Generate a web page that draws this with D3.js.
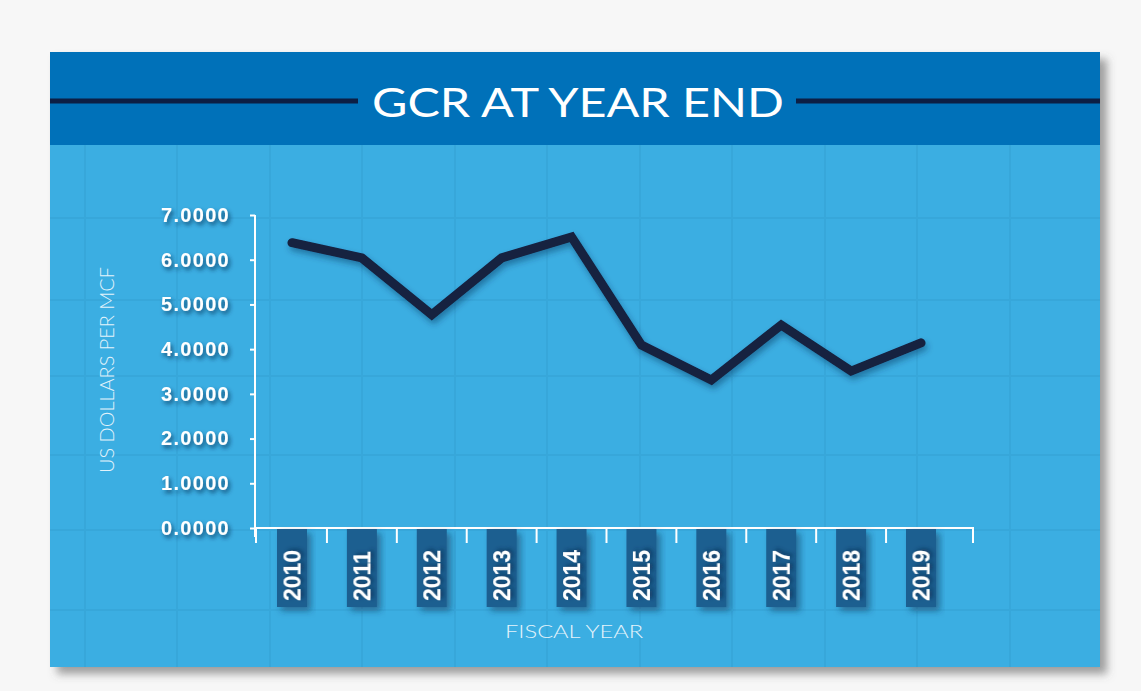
<!DOCTYPE html>
<html><head><meta charset="utf-8">
<script src="https://cdn.jsdelivr.net/npm/d3@7/dist/d3.min.js"></script>
<style>
html,body{margin:0;padding:0;background:#f7f7f7;}
svg{display:block;}
</style></head>
<body>
<svg id="chart" width="1141" height="691"></svg>
<script>
// ---- data ----
const years = ['2010','2011','2012','2013','2014','2015','2016','2017','2018','2019'];
const gcrValues = [6.38, 6.04, 4.77, 6.04, 6.51, 4.09, 3.31, 4.54, 3.51, 4.14];
const yTickValues = [0, 1, 2, 3, 4, 5, 6, 7];
const titleText = 'GCR AT YEAR END';
const yAxisTitle = 'US DOLLARS PER MCF';
const xAxisTitle = 'FISCAL YEAR';

// ---- layout ----
const W = 1141, H = 691;
const panel = {x: 50, y: 52, w: 1050, h: 615};
const headerH = 93;
const gridX = [85, 177, 270, 362, 455, 547, 640, 732, 825, 917, 1010];
const gridY = [218, 300, 376, 455, 530, 610];

const svg = d3.select('#chart');
const defs = svg.append('defs');
function shadow(id, dx, dy, sd, color, op) {
  const f = defs.append('filter').attr('id', id)
    .attr('x', '-20%').attr('y', '-20%').attr('width', '150%').attr('height', '150%');
  f.append('feDropShadow').attr('dx', dx).attr('dy', dy).attr('stdDeviation', sd)
    .attr('flood-color', color).attr('flood-opacity', op);
}
shadow('panelShadow', 7, 7, 4, '#555', 0.55);
shadow('textShadow', 2, 3, 2, '#0b2f52', 0.75);
shadow('lineShadow', 2, 4, 3, '#0b2f52', 0.45);
shadow('boxShadow', 4, 4, 3, '#0b2f52', 0.5);

// panel
svg.append('rect').attr('x', panel.x).attr('y', panel.y).attr('width', panel.w).attr('height', panel.h)
  .attr('fill', '#3baee2').attr('filter', 'url(#panelShadow)');

// grid texture
const grid = svg.append('g').attr('stroke', '#37a7da').attr('stroke-width', 2);
grid.selectAll('line.v').data(gridX).join('line').attr('class', 'v')
  .attr('x1', d => d).attr('x2', d => d).attr('y1', panel.y + headerH).attr('y2', panel.y + panel.h);
grid.selectAll('line.h').data(gridY).join('line').attr('class', 'h')
  .attr('x1', panel.x).attr('x2', panel.x + panel.w).attr('y1', d => d).attr('y2', d => d);

// header
svg.append('rect').attr('x', panel.x).attr('y', panel.y).attr('width', panel.w).attr('height', headerH)
  .attr('fill', '#0071b9');
svg.append('line').attr('x1', panel.x).attr('x2', 358).attr('y1', 101).attr('y2', 101)
  .attr('stroke', '#0c1f45').attr('stroke-width', 5);
svg.append('line').attr('x1', 796).attr('x2', panel.x + panel.w).attr('y1', 101).attr('y2', 101)
  .attr('stroke', '#0c1f45').attr('stroke-width', 5);
svg.append('text').attr('x', 578).attr('y', 117).attr('text-anchor', 'middle')
  .attr('font-family', 'Lato, "Open Sans", sans-serif').attr('font-weight', 400)
  .attr('font-size', 40).attr('fill', '#ffffff')
  .attr('textLength', 412).attr('lengthAdjust', 'spacingAndGlyphs')
  .text(titleText);

// scales
const y = d3.scaleLinear().domain([0, 7]).range([528, 215]);
const x = d3.scalePoint().domain(years).range([292, 921]);
const axisX0 = 256, axisX1 = 973;

// y axis
const yAxis = d3.axisLeft(y).tickValues(yTickValues).tickSize(5).tickSizeOuter(0)
  .tickPadding(20).tickFormat(d3.format('.4f'));
const gy = svg.append('g').attr('transform', `translate(255,0)`).call(yAxis);
gy.select('.domain').attr('d', `M0,${y(7)}V537`).attr('stroke', '#ffffff').attr('stroke-width', 2);
gy.selectAll('.tick line').attr('stroke', '#ffffff').attr('stroke-width', 2);
gy.selectAll('.tick text').attr('fill', '#ffffff').attr('font-size', 20)
  .attr('font-family', '"Liberation Sans", Arial, sans-serif').attr('font-weight', 'bold')
  .attr('letter-spacing', 1.3).attr('filter', 'url(#textShadow)');

// y title
svg.append('text').attr('transform', `translate(114,370) rotate(-90)`).attr('text-anchor', 'middle')
  .attr('font-family', 'Lato, "Open Sans", sans-serif').attr('font-weight', 300)
  .attr('font-size', 20).attr('fill', '#e3f3fb')
  .attr('textLength', 206).attr('lengthAdjust', 'spacingAndGlyphs')
  .text(yAxisTitle);

// x axis
const step = x.step();
const xTicks = [axisX0].concat(years.slice(1).map(d => x(d) - step / 2)).concat([axisX1]);
const gx = svg.append('g');
gx.append('line').attr('x1', axisX0).attr('x2', axisX1).attr('y1', 528).attr('y2', 528)
  .attr('stroke', '#ffffff').attr('stroke-width', 2);
gx.selectAll('line.t').data(xTicks).join('line').attr('class', 't')
  .attr('x1', d => d).attr('x2', d => d).attr('y1', 527).attr('y2', 543)
  .attr('stroke', '#ffffff').attr('stroke-width', 2);

// year label boxes
const lab = svg.append('g').selectAll('g').data(years).join('g')
  .attr('transform', d => `translate(${x(d)},0)`);
lab.append('rect').attr('x', -15).attr('y', 529).attr('width', 30).attr('height', 78)
  .attr('fill', '#1d5f90').attr('filter', 'url(#boxShadow)');
lab.append('text').attr('transform', 'translate(8.5,601) rotate(-90)')
  .attr('font-family', '"Liberation Sans", Arial, sans-serif').attr('font-weight', 'bold')
  .attr('font-size', 23).attr('fill', '#ffffff').attr('filter', 'url(#textShadow)')
  .text(d => d);

// x title
svg.append('text').attr('x', 574).attr('y', 638).attr('text-anchor', 'middle')
  .attr('font-family', 'Lato, "Open Sans", sans-serif').attr('font-weight', 300)
  .attr('font-size', 18).attr('fill', '#e3f3fb')
  .attr('textLength', 138).attr('lengthAdjust', 'spacingAndGlyphs')
  .text(xAxisTitle);

// line
const line = d3.line().x((d, i) => x(years[i])).y(d => y(d));
svg.append('path').datum(gcrValues).attr('d', line)
  .attr('fill', 'none').attr('stroke', '#14203f').attr('stroke-width', 9)
  .attr('stroke-linejoin', 'miter').attr('stroke-linecap', 'round')
  .attr('filter', 'url(#lineShadow)');
</script>
</body></html>
